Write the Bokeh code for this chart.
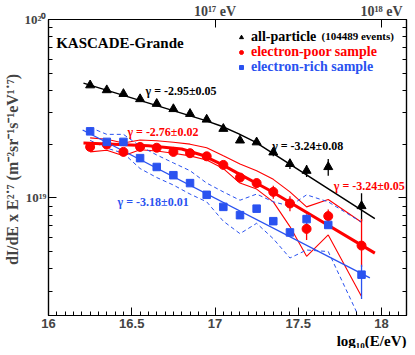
from bokeh.plotting import figure
from bokeh.models import (FixedTicker, LinearAxis, LogAxis, Label, Legend, LegendItem, Range1d, Title)
from bokeh.embed import file_html
from bokeh.resources import INLINE

# ---------------- data (flux in units of 1e19 m^-2 sr^-1 s^-1 eV^1.7) ----------------
logE = [16.25, 16.35, 16.45, 16.55, 16.65, 16.75, 16.85, 16.95,
        17.05, 17.15, 17.25, 17.35, 17.45, 17.55, 17.68, 17.88]

all_flux = [4.28, 4.02, 3.83, 3.58, 3.37, 3.15, 2.96, 2.75,
            2.44, 2.10, 2.05, 1.80, 1.55, 1.42, 1.49, 0.90]
all_err = [0.03, 0.03, 0.03, 0.03, 0.03, 0.03, 0.03, 0.03,
           0.04, 0.05, 0.05, 0.09, 0.10, 0.11, 0.16, 0.16]

poor_flux = [1.93, 1.99, 1.81, 1.93, 1.91, 1.81, 1.78, 1.71,
             1.53, 1.30, 1.21, 1.08, 0.93, 0.67, 0.79, 0.54]
poor_err_lo = [0.02, 0.02, 0.02, 0.02, 0.02, 0.02, 0.02, 0.02,
               0.03, 0.05, 0.07, 0.09, 0.09, 0.09, 0.07, 0.13]
poor_err_hi = [0.02, 0.02, 0.02, 0.02, 0.02, 0.02, 0.02, 0.02,
               0.03, 0.05, 0.07, 0.09, 0.09, 0.06, 0.07, 0.22]

rich_flux = [2.36, 2.06, 2.06, 1.67, 1.49, 1.34, 1.21, 1.04,
             0.89, 0.80, 0.87, 0.74, 0.64, 0.76, 0.705, 0.371]
rich_err_lo = [0.02, 0.02, 0.02, 0.02, 0.02, 0.02, 0.02, 0.02,
               0.02, 0.02, 0.02, 0.02, 0.03, 0.05, 0.03, 0.10]
rich_err_hi = [0.02, 0.02, 0.02, 0.02, 0.02, 0.02, 0.02, 0.02,
               0.02, 0.02, 0.02, 0.02, 0.03, 0.05, 0.03, 0.05]

# systematic bands
poor_band_up = [2.17, 2.13, 2.03, 2.11, 2.09, 2.05, 2.00, 1.91,
                1.72, 1.55, 1.42, 1.27, 1.08, 0.89, 0.98, 0.73]
poor_band_lo = [1.81, 1.85, 1.72, 1.86, 1.83, 1.78, 1.72, 1.63,
                1.46, 1.21, 1.12, 0.95, 0.69, 0.47, 0.62, 0.28]
rich_band_up = [2.48, 2.27, 2.27, 1.95, 1.74, 1.57, 1.42, 1.21,
                1.08, 0.97, 1.05, 0.95, 0.90, 1.04, 0.95, 0.73]
rich_band_lo = [2.10, 1.90, 1.78, 1.46, 1.30, 1.18, 1.05, 0.95,
                0.74, 0.63, 0.72, 0.59, 0.46, 0.51, 0.50, 0.20]

# fitted spectra
all_fit_x = [16.21, 16.94, 17.04, 17.14, 17.24, 17.96]
all_fit_y = [4.40, 2.72, 2.52, 2.29, 2.06, 0.766]
poor_fit_x = [16.21, 16.60, 16.80, 16.92, 17.04, 17.13, 17.33, 17.96]
poor_fit_y = [2.03, 1.96, 1.88, 1.74, 1.54, 1.385, 1.10, 0.49]
rich_fit_x = [16.205, 17.93]
rich_fit_y = [2.40, 0.356]

x_major = [16, 16.5, 17, 17.5, 18]
x_minor = [round(16 + 0.05 * i, 2) for i in range(44)]
y_major = [1, 10]
y_minor = [0.3, 0.4, 0.5, 0.6, 0.7, 0.8, 0.9, 2, 3, 4, 5, 6, 7, 8, 9]
top_ticks = [17, 18]

RED = "#ff0000"
BLUE = "#2a52f0"
SERIF = "Liberation Serif"
SANS = "Liberation Sans"

FW, FH = 358, 296
p = figure(frame_width=FW, frame_height=FH, x_range=Range1d(16, 18.15), y_range=Range1d(0.219, 10),
           y_axis_type="log", output_backend="svg", toolbar_location=None,
           min_border_left=44, min_border_right=2, min_border_top=8, min_border_bottom=2)
p.grid.visible = False
p.outline_line_color = "black"
p.outline_line_width = 1.2
p.background_fill_color = "white"
p.border_fill_color = "white"

# bottom axis
xa = p.xaxis[0]
xa.ticker = FixedTicker(ticks=x_major, minor_ticks=x_minor)
xa.major_tick_in = 8
xa.major_tick_out = 0
xa.minor_tick_in = 4
xa.minor_tick_out = 0
xa.major_label_text_font = SANS
xa.major_label_text_font_style = "bold"
xa.major_label_text_font_size = "13px"
xa.major_label_standoff = 3
xa.axis_line_width = 1.2

# x title, right-aligned under the axis
p.add_layout(Title(text="log\u2081\u2080(E/eV)", align="right", text_font=SERIF,
                   text_font_style="bold", text_font_size="15px", standoff=0, offset=0,
                   text_color="black"), "below")

# left axis
ya = p.yaxis[0]
ya.ticker = FixedTicker(ticks=y_major, minor_ticks=y_minor)
ya.major_label_overrides = {1: "10\u00b9\u2079", 10: "10\u00b2\u2070"}
ya.major_tick_in = 8
ya.major_tick_out = 0
ya.minor_tick_in = 4
ya.minor_tick_out = 0
ya.major_label_text_font = SERIF
ya.major_label_text_font_style = "bold"
ya.major_label_text_font_size = "13px"
ya.major_label_standoff = 2
ya.axis_label = "dI/dE x  E\u00b2\u02d9\u2077 (m\u207b\u00b2sr\u207b\u00b9s\u207b\u00b9eV\u00b9\u02d9\u2077)"
ya.axis_label_text_font = SERIF
ya.axis_label_text_font_style = "bold"
ya.axis_label_text_font_size = "16px"
ya.axis_label_standoff = 1
ya.axis_line_width = 1.2

# right axis (ticks only)
ra = LogAxis(ticker=FixedTicker(ticks=y_major, minor_ticks=y_minor),
             major_tick_in=8, major_tick_out=0, minor_tick_in=4, minor_tick_out=0,
             major_label_text_font_size="1px", major_label_text_alpha=0,
             major_label_standoff=0, axis_line_width=1.2)
p.add_layout(ra, "right")

# top axis
ta = LinearAxis(ticker=FixedTicker(ticks=top_ticks),
                major_label_overrides={17: "10\u00b9\u2077 eV", 18: "10\u00b9\u2078 eV"},
                major_tick_in=8, major_tick_out=0, minor_tick_in=0, minor_tick_out=0,
                major_label_text_font=SERIF, major_label_text_font_style="bold",
                major_label_text_font_size="14px", major_label_standoff=1)
p.add_layout(ta, "above")

# bands
p.line(logE, poor_band_up, color=RED, line_width=1.1)
p.line(logE, poor_band_lo, color=RED, line_width=1.1)
p.line(logE, rich_band_up, color=BLUE, line_width=1.0, line_dash="4 3")
p.line(logE, rich_band_lo, color=BLUE, line_width=1.0, line_dash="4 3")

# fits
p.line(all_fit_x, all_fit_y, color="black", line_width=1.5)
p.line(poor_fit_x, poor_fit_y, color=RED, line_width=3)
p.line(rich_fit_x, rich_fit_y, color=BLUE, line_width=1.3)

# error bars
p.segment(logE, [f - e for f, e in zip(all_flux, all_err)], logE,
          [f + e for f, e in zip(all_flux, all_err)], color="black", line_width=1.3)
p.segment(logE, [f - e for f, e in zip(poor_flux, poor_err_lo)], logE,
          [f + e for f, e in zip(poor_flux, poor_err_hi)], color=RED, line_width=1.3)
p.segment(logE, [f - e for f, e in zip(rich_flux, rich_err_lo)], logE,
          [f + e for f, e in zip(rich_flux, rich_err_hi)], color=BLUE, line_width=1.3)

# markers
r_all = p.scatter(logE, all_flux, marker="triangle", size=9, color="black")
r_poor = p.scatter(logE, poor_flux, marker="circle", size=9, color=RED)
r_rich = p.scatter(logE, rich_flux, marker="square", size=7.5, color=BLUE)

# legends (one per colour)
def add_leg(label, r, col, yoff):
    lg = Legend(items=[LegendItem(label=label, renderers=[r])], location=(188, yoff),
                label_text_font=SERIF, label_text_font_style="bold", label_text_font_size="14px",
                label_text_color=col, glyph_width=10, glyph_height=12, label_height=15,
                spacing=0, padding=0, margin=0, border_line_alpha=0,
                background_fill_alpha=0, label_standoff=5)
    p.add_layout(lg)

add_leg("all-particle", r_all, "black", FH - 26)
add_leg("electron-poor sample", r_poor, RED, FH - 41)
add_leg("electron-rich sample", r_rich, BLUE, FH - 56)

def lab(x, y, t, col, size, align="left", **kw):
    p.add_layout(Label(x=x, y=y, text=t, text_color=col, text_font=SERIF,
                       text_font_style="bold", text_font_size=size,
                       text_baseline="middle", text_align=align, **kw))

lab(16.046, 7.4, "KASCADE-Grande", "black", "15px")
lab(17.64, 8.05, "(104489 events)", "black", "11px")
lab(16.583, 3.965, "\u03b3 = -2.95\u00b10.05", "black", "12px")
lab(17.343, 1.957, "\u03b3 = -3.24\u00b10.08", "black", "12px")
lab(16.474, 2.33, "\u03b3 = -2.76\u00b10.02", RED, "12px")
lab(18.14, 1.17, "\u03b3 = -3.24\u00b10.05", RED, "12px", align="right")
lab(16.415, 0.947, "\u03b3 = -3.18\u00b10.01", BLUE, "12px")

open("out.html", "w").write(file_html(p, INLINE))
